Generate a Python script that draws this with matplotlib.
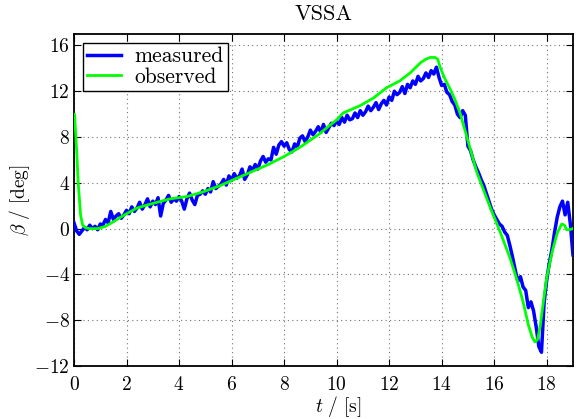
import numpy as np
import matplotlib
matplotlib.use("Agg")
import matplotlib.pyplot as plt

plt.rcParams['font.family'] = ['cmr10', 'DejaVu Serif']
plt.rcParams['mathtext.fontset'] = 'cm'
plt.rcParams['axes.formatter.use_mathtext'] = True
plt.rcParams['axes.unicode_minus'] = True

title = "VSSA"
xlabel = r'$t\ /\ [\mathrm{s}]$'
ylabel = r'$\beta\ /\ [\mathrm{deg}]$'
xticks = [0, 2, 4, 6, 8, 10, 12, 14, 16, 18]
yticks = [-12, -8, -4, 0, 4, 8, 12, 16]

# measured signal, sampled every 0.1 s from t = 0 to 19
t_meas = np.round(np.arange(0, 191) * 0.1, 1)
beta_meas = [
    0.5, -0.2, -0.5, -0.2, 0.1, -0.1, 0.3, 0.0, 0.2, -0.1,
    0.4, 0.3, 0.8, 0.5, 1.5, 0.8, 1.1, 1.3, 0.9, 1.2,
    1.6, 1.3, 1.9, 1.5, 1.8, 2.3, 1.7, 2.1, 2.6, 1.9,
    2.4, 2.1, 2.7, 1.1, 2.2, 2.5, 2.9, 2.3, 2.6, 2.4,
    2.8, 2.4, 1.7, 2.6, 3.1, 2.5, 2.1, 2.9, 3.0, 3.3,
    3.0, 3.5, 3.2, 4.1, 3.5, 3.7, 3.9, 4.3, 3.8, 4.6,
    4.2, 4.8, 4.4, 4.6, 5.2, 4.3, 4.7, 5.4, 5.1, 5.6,
    5.2, 5.9, 6.3, 5.8, 6.1, 6.0, 7.1, 6.5, 7.3, 7.6,
    7.2, 7.5, 6.9, 6.7, 7.4, 7.1, 7.9, 8.1, 7.6, 8.0,
    8.6, 8.2, 8.5, 8.9, 8.4, 9.1, 8.4, 8.8, 9.2, 9.0,
    9.4, 9.1, 9.7, 9.3, 9.9, 9.5, 9.6, 10.1, 9.7, 10.3,
    9.9, 10.2, 10.7, 10.3, 10.6, 11.0, 10.4, 10.9, 11.2, 10.8,
    11.5, 11.2, 12.0, 11.7, 11.9, 12.4, 11.8, 12.6, 12.3, 12.9,
    12.6, 13.3, 12.9, 13.1, 13.6, 13.2, 13.8, 13.5, 14.1, 13.2,
    12.5, 12.6, 11.9, 11.7, 11.1, 10.8, 10.0, 9.7, 10.3, 9.9,
    7.2, 6.8, 6.0, 5.4, 4.9, 4.3, 3.8, 3.1, 2.4, 1.7,
    1.2, 0.8, 0.4, 0.2, -0.3, -0.6, -1.5, -2.5, -3.6, -4.6,
    -4.2, -5.1, -5.4, -6.9, -6.4, -7.2, -8.6, -10.3, -10.8, -6.5,
    -4.5, -3.0, -1.8, -0.3, 1.0, 1.9, 2.4, 1.2, 2.3, 0.4,
    -2.3,
]

# observed signal (smooth)
t_obs = [0.0, 0.02, 0.1, 0.16, 0.25, 0.33, 0.45, 0.6, 0.9, 1.2, 1.5, 1.75,
         2.0, 2.4, 2.7, 3.0, 3.66, 4.3, 4.9, 5.56, 6.2, 6.7, 7.4, 8.0, 8.6,
         9.3, 10.0, 10.25, 10.9, 11.4, 11.9, 12.4, 12.8, 13.2, 13.4, 13.56,
         13.75, 13.85, 13.94, 14.1, 14.32, 14.5, 14.7, 14.96, 15.34, 15.84,
         16.22, 16.6, 16.87, 17.1, 17.3, 17.45, 17.55, 17.65, 17.75, 17.85,
         18.0, 18.2, 18.4, 18.57, 18.68, 18.76, 18.85, 19.0]
beta_obs = [10.0, 10.0, 6.9, 4.0, 1.2, 0.3, 0.05, 0.0, 0.0, 0.2, 0.6, 0.96,
            1.3, 1.8, 2.0, 2.2, 2.6, 2.8, 3.2, 3.75, 4.4, 4.9, 5.6, 6.3, 7.1,
            8.2, 9.5, 10.1, 10.75, 11.4, 12.3, 12.9, 13.6, 14.5, 14.8, 14.95,
            14.95, 14.8, 14.1, 13.2, 12.2, 11.3, 10.1, 8.0, 4.9, 1.9,
            -0.25, -2.55, -4.5, -6.4, -8.4, -9.5, -9.9, -9.7, -8.55, -6.8,
            -4.3, -2.1, -0.4, 0.4, 0.3, -0.1, -0.1, 0.0]

fig = plt.figure(figsize=(5.79, 4.19), dpi=100)
ax = fig.add_axes([0.1278, 0.1265, 0.8618, 0.7924])

ax.plot(t_meas, beta_meas, color=(0, 0, 1), lw=2.5, label='measured', zorder=3)
ax.plot(t_obs, beta_obs, color=(0, 1, 0), lw=2.0, label='observed', zorder=4)

ax.set_xlim(0, 19)
ax.set_ylim(-12, 17)
ax.set_xticks(xticks)
ax.set_yticks(yticks)
ax.tick_params(direction='in', top=True, right=True, length=5, width=0.8,
               labelsize=14)
ax.tick_params(axis='x', pad=7)
ax.tick_params(axis='y', pad=3)
ax.grid(True, linestyle=(0, (1, 3)), color='0.45', linewidth=0.8)
for s in ax.spines.values():
    s.set_linewidth(1.3)

ax.set_title(title, fontsize=16, pad=10)
ax.set_xlabel(xlabel, fontsize=14)
ax.set_ylabel(ylabel, fontsize=14)
ax.xaxis.set_label_coords(0.529, -0.085)
ax.yaxis.set_label_coords(-0.085, 0.5)

leg = ax.legend(loc='upper left', fontsize=15.5, fancybox=False, framealpha=1,
                edgecolor='black', handlelength=1.6, borderpad=0.2,
                labelspacing=0.05, borderaxespad=0.4, handletextpad=0.6)
leg.get_frame().set_linewidth(1.0)

fig.savefig('out.png', dpi=100)
